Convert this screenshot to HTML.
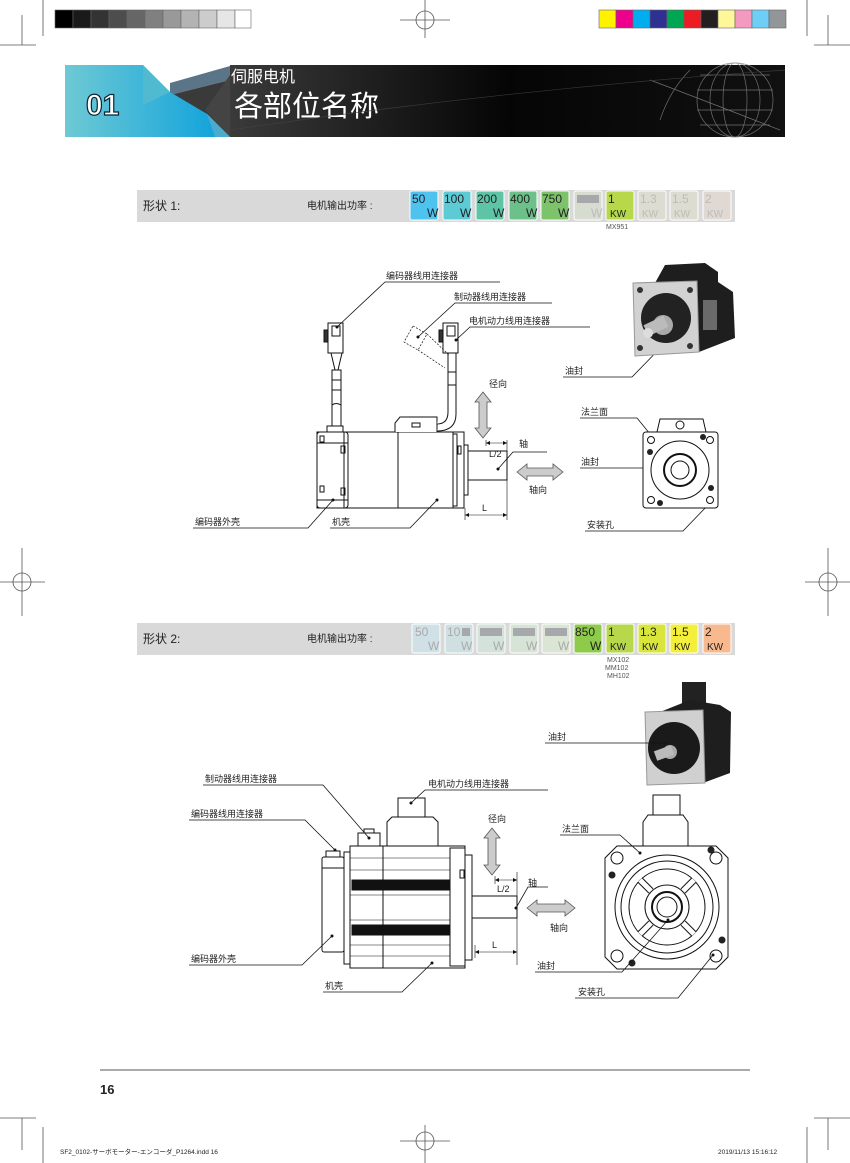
<!DOCTYPE html>
<html><head><meta charset="utf-8"><style>
html,body{margin:0;padding:0;background:#fff}
svg{display:block}
text{font-family:"Liberation Sans","Noto Sans CJK SC",sans-serif;fill:#222}
.l{font-size:9px}
.bx{font-size:12px;font-family:"Liberation Sans",sans-serif}
</style></head><body>
<svg width="850" height="1163" viewBox="0 0 850 1163" xmlns="http://www.w3.org/2000/svg">
<defs>
<linearGradient id="bl" x1="0" x2="1"><stop offset="0" stop-color="#6ec9d4"/><stop offset="1" stop-color="#0aa0dc"/></linearGradient>
<linearGradient id="bk" x1="0" x2="1"><stop offset="0" stop-color="#3a3a3a"/><stop offset="0.5" stop-color="#050505"/><stop offset="1" stop-color="#111"/></linearGradient>
</defs>
<g stroke="#555" stroke-width="0.8" fill="none">
<line x1="43" y1="0" x2="43" y2="36"/><line x1="0" y1="45" x2="36" y2="45"/><line x1="22" y1="15" x2="22" y2="45"/>
<line x1="807" y1="0" x2="807" y2="36"/><line x1="814" y1="45" x2="850" y2="45"/><line x1="828" y1="15" x2="828" y2="45"/>
<line x1="43" y1="1127" x2="43" y2="1163"/><line x1="0" y1="1118" x2="36" y2="1118"/><line x1="22" y1="1118" x2="22" y2="1150"/>
<line x1="807" y1="1127" x2="807" y2="1163"/><line x1="814" y1="1118" x2="850" y2="1118"/><line x1="828" y1="1118" x2="828" y2="1150"/>
<circle cx="425" cy="20" r="9"/><line x1="400" y1="20" x2="450" y2="20"/><line x1="425" y1="0" x2="425" y2="38"/>
<circle cx="425" cy="1141" r="9"/><line x1="400" y1="1141" x2="450" y2="1141"/><line x1="425" y1="1125" x2="425" y2="1163"/>
<circle cx="22" cy="582" r="9"/><line x1="0" y1="582" x2="45" y2="582"/><line x1="22" y1="548" x2="22" y2="616"/>
<circle cx="828" cy="582" r="9"/><line x1="805" y1="582" x2="850" y2="582"/><line x1="828" y1="548" x2="828" y2="616"/>
</g>
<g stroke="#666" stroke-width="0.6">
<rect x="55" y="10" width="18" height="18" fill="#000"/><rect x="73" y="10" width="18" height="18" fill="#1a1a1a"/><rect x="91" y="10" width="18" height="18" fill="#333"/><rect x="109" y="10" width="18" height="18" fill="#4d4d4d"/><rect x="127" y="10" width="18" height="18" fill="#666"/><rect x="145" y="10" width="18" height="18" fill="#808080"/><rect x="163" y="10" width="18" height="18" fill="#999"/><rect x="181" y="10" width="18" height="18" fill="#b3b3b3"/><rect x="199" y="10" width="18" height="18" fill="#ccc"/><rect x="217" y="10" width="18" height="18" fill="#e6e6e6"/><rect x="235" y="10" width="16" height="18" fill="#fff"/>
<rect x="599" y="10" width="17" height="18" fill="#fff200"/><rect x="616" y="10" width="17" height="18" fill="#ec008c"/><rect x="633" y="10" width="17" height="18" fill="#00aeef"/><rect x="650" y="10" width="17" height="18" fill="#2e3192"/><rect x="667" y="10" width="17" height="18" fill="#00a651"/><rect x="684" y="10" width="17" height="18" fill="#ed1c24"/><rect x="701" y="10" width="17" height="18" fill="#231f20"/><rect x="718" y="10" width="17" height="18" fill="#fff799"/><rect x="735" y="10" width="17" height="18" fill="#f49ac1"/><rect x="752" y="10" width="17" height="18" fill="#6dcff6"/><rect x="769" y="10" width="17" height="18" fill="#939598"/>
</g>
<rect x="230" y="65" width="555" height="72" fill="url(#bk)"/>
<polygon points="170,83 230,66 230,80 170,95" fill="#5a7488"/>
<polygon points="170,95 230,80 230,137 207,114" fill="#3a3a3a"/>
<polygon points="205,110 230,75 230,137" fill="#444"/>
<polygon points="65,65 143,65 170,92 207,114 230,137 143,137 65,137" fill="url(#bl)"/>
<polygon points="143,65 170,92 143,105" fill="#4fbad0"/>
<polygon points="207,114 230,137 215,137" fill="#4aaad0"/>
<text x="86" y="115" style="font-size:30px;font-weight:bold;fill:#fff;stroke:#0b2230;stroke-width:1.2;font-family:'Liberation Sans',sans-serif">01</text>
<text x="231" y="82" style="font-size:16px;fill:#fff">伺服电机</text>
<text x="234" y="116" style="font-size:29px;fill:#fff">各部位名称</text>
<g fill="none" stroke="#888" stroke-width="0.7" opacity="0.8">
<ellipse cx="735" cy="100" rx="38" ry="37"/><ellipse cx="735" cy="100" rx="25" ry="37"/><ellipse cx="735" cy="100" rx="12" ry="37"/>
<path d="M697 90 L773 90 M697 110 L773 110 M700 75 L770 75 M700 125 L770 125"/>
<path d="M650 80 Q690 95 780 130 M660 120 Q670 90 690 70"/>
<path d="M230 130 Q500 90 785 70" stroke="#444"/>
</g>
<rect x="137" y="190" width="598" height="32" fill="#d9d9d9"/>
<text x="143" y="210" style="font-size:12px">形状 1:</text>
<text x="307" y="209" style="font-size:10px">电机输出功率 :</text>
<g stroke="#fff" stroke-width="1">
<rect x="410" y="191" width="28" height="29" rx="2" fill="#4fc3ef"/>
<rect x="443" y="191" width="28" height="29" rx="2" fill="#5ccbd6"/>
<rect x="476" y="191" width="28" height="29" rx="2" fill="#5ec4a6"/>
<rect x="509" y="191" width="28" height="29" rx="2" fill="#6cc18a"/>
<rect x="541" y="191" width="28" height="29" rx="2" fill="#7cc36a"/>
<rect x="574" y="191" width="28" height="29" rx="2" fill="#d6ddd0"/>
<rect x="606" y="191" width="28" height="29" rx="2" fill="#b6d84a"/>
<rect x="638" y="191" width="28" height="29" rx="2" fill="#dcdcd0"/>
<rect x="670" y="191" width="28" height="29" rx="2" fill="#dcdcd0"/>
<rect x="703" y="191" width="28" height="29" rx="2" fill="#e0d8d2"/>
</g>
<rect x="577" y="195" width="22" height="8" fill="#a6a8ab"/>
<g class="bx">
<text x="412" y="203">50</text><text x="427" y="217">W</text>
<text x="444" y="203">100</text><text x="460" y="217">W</text>
<text x="477" y="203">200</text><text x="493" y="217">W</text>
<text x="510" y="203">400</text><text x="526" y="217">W</text>
<text x="542" y="203">750</text><text x="558" y="217">W</text>
<text x="591" y="217" style="fill:#bbb">W</text>
<text x="608" y="203">1</text><text x="610" y="217" style="font-size:10px">KW</text>
<text x="640" y="203" style="fill:#bbb">1.3</text><text x="642" y="217" style="font-size:10px;fill:#bbb">KW</text>
<text x="672" y="203" style="fill:#bbb">1.5</text><text x="674" y="217" style="font-size:10px;fill:#bbb">KW</text>
<text x="705" y="203" style="fill:#bbb">2</text><text x="707" y="217" style="font-size:10px;fill:#bbb">KW</text>
</g>
<text x="606" y="229" style="font-size:7px;fill:#555">MX951</text>
<rect x="137" y="623" width="598" height="32" fill="#d9d9d9"/>
<text x="143" y="643" style="font-size:12px">形状 2:</text>
<text x="307" y="642" style="font-size:10px">电机输出功率 :</text>
<g stroke="#fff" stroke-width="1">
<rect x="412" y="624" width="28" height="29" rx="2" fill="#cfe0e6"/>
<rect x="445" y="624" width="28" height="29" rx="2" fill="#cfe0e2"/>
<rect x="477" y="624" width="28" height="29" rx="2" fill="#d3e2da"/>
<rect x="510" y="624" width="28" height="29" rx="2" fill="#d6e4d6"/>
<rect x="542" y="624" width="28" height="29" rx="2" fill="#dae5d3"/>
<rect x="574" y="624" width="28" height="29" rx="2" fill="#8fcb4a"/>
<rect x="606" y="624" width="28" height="29" rx="2" fill="#b6d84a"/>
<rect x="638" y="624" width="28" height="29" rx="2" fill="#d8e63c"/>
<rect x="670" y="624" width="28" height="29" rx="2" fill="#f3ef3a"/>
<rect x="703" y="624" width="28" height="29" rx="2" fill="#f7b98d"/>
</g>
<g fill="#a6a8ab"><rect x="462" y="628" width="8" height="8"/><rect x="480" y="628" width="22" height="8"/><rect x="513" y="628" width="22" height="8"/><rect x="545" y="628" width="22" height="8"/></g>
<g class="bx">
<text x="415" y="636" style="fill:#aaa">50</text><text x="428" y="650" style="fill:#aaa">W</text>
<text x="447" y="636" style="fill:#aaa">10</text><text x="461" y="650" style="fill:#aaa">W</text>
<text x="493" y="650" style="fill:#aaa">W</text><text x="526" y="650" style="fill:#aaa">W</text><text x="558" y="650" style="fill:#aaa">W</text>
<text x="575" y="636">850</text><text x="590" y="650">W</text>
<text x="608" y="636">1</text><text x="610" y="650" style="font-size:10px">KW</text>
<text x="640" y="636">1.3</text><text x="642" y="650" style="font-size:10px">KW</text>
<text x="672" y="636">1.5</text><text x="674" y="650" style="font-size:10px">KW</text>
<text x="705" y="636">2</text><text x="707" y="650" style="font-size:10px">KW</text>
</g>
<g style="font-size:7px"><text x="607" y="662" style="fill:#555">MX102</text><text x="605" y="670" style="fill:#555">MM102</text><text x="607" y="678" style="fill:#555">MH102</text></g>
<g fill="none" stroke="#111" stroke-width="1">
<rect x="317" y="432" width="147" height="76" fill="#fff"/>
<rect x="317" y="432" width="31" height="76" rx="3"/>
<line x1="344" y1="432" x2="344" y2="508"/>
<line x1="398" y1="432" x2="398" y2="508"/>
<line x1="453" y1="432" x2="453" y2="508"/>
<rect x="453" y="434" width="4" height="72"/>
<line x1="317" y1="443" x2="348" y2="443"/><line x1="317" y1="500" x2="348" y2="500"/>
<rect x="341" y="446" width="4" height="7"/><rect x="341" y="488" width="4" height="7"/>
<rect x="320" y="436" width="4" height="6"/><rect x="320" y="486" width="4" height="6"/>
<rect x="458" y="446" width="3" height="8"/>
<rect x="464" y="445" width="4" height="50"/>
<rect x="468" y="451" width="39" height="29" fill="#fff"/>
<path d="M395 432 L395 423 L400 417 L437 417 L437 432" fill="#fff"/>
<rect x="412" y="423" width="8" height="4"/>
<rect x="327" y="426" width="16" height="6"/>
<rect x="332" y="370" width="9" height="56" fill="#fff"/>
<line x1="332" y1="380" x2="341" y2="380"/><line x1="332" y1="390" x2="341" y2="390"/><path d="M332 405 q4 -3 9 0"/>
<path d="M331 353 L335 370 M342 353 L338 370"/>
<rect x="328" y="323" width="15" height="30" fill="#fff"/>
<rect x="332" y="326" width="8" height="10"/>
<rect x="324" y="330" width="4" height="12" fill="#333"/>
<path d="M448 353 L448 412 Q448 424 437 424 M456 353 L456 414 Q456 431 437 431" fill="#fff"/>
<line x1="448" y1="372" x2="456" y2="372"/><line x1="448" y1="385" x2="456" y2="385"/>
<rect x="443" y="323" width="15" height="30" fill="#fff"/>
<rect x="447" y="326" width="8" height="10"/>
<rect x="439" y="330" width="4" height="12" fill="#333"/>
<g stroke-dasharray="2,1.5" stroke-width="0.7"><path d="M413 326 L427 334 L418 350 L404 342 Z M418 350 L445 368 M427 334 L449 355"/></g>
<line x1="507" y1="440" x2="507" y2="520" stroke-width="0.6"/>
<line x1="486" y1="440" x2="486" y2="446" stroke-width="0.6"/>
<line x1="486" y1="443" x2="507" y2="443" stroke-width="0.6"/>
<line x1="465" y1="515" x2="507" y2="515" stroke-width="0.6"/>
<line x1="465" y1="508" x2="465" y2="520" stroke-width="0.6"/>
</g>
<g fill="#111"><path d="M486 443 l4 -2 v4z M507 443 l-4 -2 v4z M465 515 l4 -2 v4z M507 515 l-4 -2 v4z"/></g>
<path d="M483 392 L491 402 L487 402 L487 428 L491 428 L483 438 L475 428 L479 428 L479 402 L475 402 Z" fill="#ccc" stroke="#555" stroke-width="0.8"/>
<path d="M517 472 L527 464 L527 468 L553 468 L553 464 L563 472 L553 480 L553 476 L527 476 L527 480 Z" fill="#ccc" stroke="#555" stroke-width="0.8"/>
<g class="l">
<text x="489" y="387">径向</text><text x="489" y="457">L/2</text><text x="519" y="447">轴</text>
<text x="529" y="493">轴向</text><text x="482" y="511">L</text>
</g>
<g stroke="#111" stroke-width="0.8" fill="none">
<path d="M337 327 L385 282 L500 282"/>
<path d="M418 337 L455 303 L552 303"/>
<path d="M456 340 L470 327 L590 327"/>
<path d="M193 528 L308 528 L333 500"/>
<path d="M330 528 L410 528 L437 500"/>
<path d="M498 469 L513 452 L547 452"/>
<path d="M563 377 L632 377 L670 338"/>
<path d="M580 418 L637 418 L655 440"/>
<path d="M580 468 L670 468"/>
<path d="M585 531 L683 531 L708 505"/>
</g>
<g fill="#111"><circle cx="337" cy="327" r="1.5"/><circle cx="418" cy="337" r="1.5"/><circle cx="456" cy="340" r="1.5"/><circle cx="333" cy="500" r="1.5"/><circle cx="437" cy="500" r="1.5"/><circle cx="498" cy="469" r="1.5"/><circle cx="655" cy="440" r="1.5"/><circle cx="670" cy="478" r="1.5"/><circle cx="708" cy="505" r="1.5"/></g>
<g class="l">
<text x="386" y="279">编码器线用连接器</text>
<text x="454" y="300">制动器线用连接器</text>
<text x="469" y="324">电机动力线用连接器</text>
<text x="195" y="525">编码器外壳</text>
<text x="332" y="525">机壳</text>
<text x="565" y="374">油封</text>
<text x="581" y="415">法兰面</text>
<text x="581" y="465">油封</text>
<text x="587" y="528">安装孔</text>
</g>
<g fill="#fff" stroke="#111" stroke-width="1">
<path d="M657 432 L660 419 L703 419 L706 432"/>
<circle cx="680" cy="425" r="4"/>
<rect x="643" y="432" width="75" height="76" rx="3"/>
<circle cx="680" cy="470" r="29"/>
<circle cx="680" cy="470" r="16" stroke-width="2"/>
<circle cx="680" cy="470" r="9"/>
<circle cx="651" cy="440" r="3.5"/><circle cx="710" cy="440" r="3.5"/><circle cx="651" cy="500" r="3.5"/><circle cx="710" cy="500" r="3.5"/>
</g>
<g fill="#222"><circle cx="650" cy="452" r="3"/><circle cx="703" cy="437" r="3"/><circle cx="711" cy="488" r="3"/><circle cx="660" cy="503" r="3"/></g>
<path d="M655 283 L665 265 L705 263 L718 272 L718 282 L733 292 L735 338 L699 352 L697 283 Z" fill="#1e1e1e"/>
<rect x="703" y="300" width="14" height="30" fill="#6a6a6a"/>
<path d="M633 283 L697 281 L699 352 L635 356 Z" fill="#d2d2d2" stroke="#999"/>
<circle cx="666" cy="318" r="25" fill="#222"/>
<circle cx="663" cy="325" r="10" fill="#aaa"/>
<rect x="645" y="320" width="22" height="12" fill="#bbb" transform="rotate(-25 656 326)"/>
<circle cx="648" cy="333" r="5" fill="#ddd"/>
<g fill="#333"><circle cx="640" cy="290" r="3"/><circle cx="690" cy="290" r="3"/><circle cx="640" cy="348" r="3"/><circle cx="690" cy="346" r="3"/></g>
<g fill="#fff" stroke="#111" stroke-width="1">
<rect x="322" y="857" width="22" height="95" rx="2"/>
<line x1="322" y1="868" x2="344" y2="868"/>
<rect x="326" y="851" width="14" height="6"/>
<rect x="344" y="852" width="6" height="112"/>
<rect x="350" y="846" width="115" height="122"/>
<g stroke-width="0.5"><line x1="350" y1="858" x2="465" y2="858"/><line x1="350" y1="870" x2="465" y2="870"/><line x1="350" y1="895" x2="465" y2="895"/><line x1="350" y1="920" x2="465" y2="920"/><line x1="350" y1="945" x2="465" y2="945"/><line x1="350" y1="956" x2="465" y2="956"/></g>
<rect x="352" y="880" width="98" height="10" fill="#111"/>
<rect x="352" y="925" width="98" height="10" fill="#111"/>
<line x1="383" y1="846" x2="383" y2="968"/>
<rect x="450" y="848" width="15" height="118"/>
<rect x="465" y="855" width="7" height="105"/>
<rect x="460" y="870" width="4" height="8"/>
<rect x="472" y="896" width="45" height="22"/>
<rect x="358" y="833" width="22" height="13"/>
<rect x="364" y="829" width="10" height="4"/>
<path d="M387 846 L387 822 L392 817 L433 817 L438 822 L438 846 Z"/>
<rect x="398" y="798" width="27" height="19"/>
</g>
<g fill="none" stroke="#111" stroke-width="0.6">
<line x1="517" y1="872" x2="517" y2="965"/>
<line x1="495" y1="876" x2="495" y2="884"/><line x1="495" y1="880" x2="517" y2="880"/>
<line x1="475" y1="945" x2="475" y2="958"/><line x1="475" y1="952" x2="517" y2="952"/>
</g>
<path d="M495 880 l4 -2 v4z M517 880 l-4 -2 v4z M475 952 l4 -2 v4z M517 952 l-4 -2 v4z" fill="#111"/>
<path d="M492 828 L500 838 L496 838 L496 865 L500 865 L492 875 L484 865 L488 865 L488 838 L484 838 Z" fill="#ccc" stroke="#555" stroke-width="0.8"/>
<path d="M527 908 L537 900 L537 904 L565 904 L565 900 L575 908 L565 916 L565 912 L537 912 L537 916 Z" fill="#ccc" stroke="#555" stroke-width="0.8"/>
<g class="l">
<text x="488" y="822">径向</text><text x="497" y="892">L/2</text><text x="528" y="886">轴</text>
<text x="550" y="931">轴向</text><text x="492" y="948">L</text>
</g>
<g fill="#fff" stroke="#111" stroke-width="1">
<path d="M643 846 L643 822 L648 815 L683 815 L688 822 L688 846"/>
<rect x="653" y="795" width="27" height="20"/>
<path d="M617 846 L716 846 L728 858 L728 957 L716 969 L617 969 L605 957 L605 858 Z"/>
<circle cx="667" cy="907" r="52"/>
<circle cx="667" cy="907" r="46"/>
<circle cx="667" cy="907" r="38"/>
<circle cx="667" cy="907" r="22"/>
<circle cx="667" cy="907" r="15" stroke-width="2"/>
<circle cx="667" cy="907" r="10"/>
<circle cx="617" cy="858" r="6"/><circle cx="716" cy="858" r="6"/><circle cx="617" cy="956" r="6"/><circle cx="716" cy="956" r="6"/>
</g>
<g stroke="#111" stroke-width="7"><line x1="640" y1="880" x2="651" y2="891"/><line x1="694" y1="880" x2="683" y2="891"/><line x1="640" y1="934" x2="651" y2="923"/><line x1="694" y1="934" x2="683" y2="923"/></g>
<g stroke="#fff" stroke-width="5"><line x1="640" y1="880" x2="651" y2="891"/><line x1="694" y1="880" x2="683" y2="891"/><line x1="640" y1="934" x2="651" y2="923"/><line x1="694" y1="934" x2="683" y2="923"/></g>
<g fill="#222"><circle cx="711" cy="850" r="3.5"/><circle cx="612" cy="875" r="3.5"/><circle cx="722" cy="940" r="3.5"/><circle cx="632" cy="963" r="3.5"/></g>
<rect x="682" y="682" width="24" height="22" fill="#222"/>
<path d="M660 712 L690 700 L720 705 L731 712 L730 773 L703 783 L703 712 Z" fill="#1e1e1e"/>
<path d="M645 712 L703 710 L705 783 L647 785 Z" fill="#d0d0d0" stroke="#999"/>
<circle cx="674" cy="748" r="26" fill="#1a1a1a"/>
<circle cx="670" cy="752" r="7" fill="#aaa"/>
<rect x="655" y="748" width="18" height="10" fill="#bbb" transform="rotate(-20 664 753)"/>
<g stroke="#111" stroke-width="0.8" fill="none">
<path d="M203 785 L323 785 L369 838"/>
<path d="M189 820 L305 820 L335 850"/>
<path d="M189 965 L302 965 L332 936"/>
<path d="M323 992 L402 992 L432 963"/>
<path d="M411 803 L425 790 L548 790"/>
<path d="M516 908 L528 887 L548 887"/>
<path d="M560 835 L620 835 L640 853"/>
<path d="M535 972 L622 972 L668 920"/>
<path d="M575 998 L678 998 L713 955"/>
<path d="M545 743 L668 743"/>
</g>
<g fill="#111"><circle cx="369" cy="838" r="1.5"/><circle cx="335" cy="850" r="1.5"/><circle cx="332" cy="936" r="1.5"/><circle cx="432" cy="963" r="1.5"/><circle cx="411" cy="803" r="1.5"/><circle cx="516" cy="908" r="1.5"/><circle cx="640" cy="853" r="1.5"/><circle cx="668" cy="920" r="1.5"/><circle cx="713" cy="955" r="1.5"/></g>
<g class="l">
<text x="205" y="782">制动器线用连接器</text>
<text x="191" y="817">编码器线用连接器</text>
<text x="191" y="962">编码器外壳</text>
<text x="325" y="989">机壳</text>
<text x="428" y="787">电机动力线用连接器</text>
<text x="562" y="832">法兰面</text>
<text x="537" y="969">油封</text>
<text x="578" y="995">安装孔</text>
<text x="548" y="740">油封</text>
</g>
<rect x="100" y="1069" width="650" height="2" fill="#aaa"/>
<text x="100" y="1094" style="font-size:13px;font-weight:bold;font-family:'Liberation Sans',sans-serif">16</text>
<text x="60" y="1154" style="font-size:6.5px;font-family:'Liberation Sans','Noto Sans CJK JP',sans-serif">SF2_0102-サーボモーター-エンコーダ_P1264.indd   16</text>
<text x="718" y="1154" style="font-size:6.5px">2019/11/13    15:16:12</text>
</svg>
</body></html>
